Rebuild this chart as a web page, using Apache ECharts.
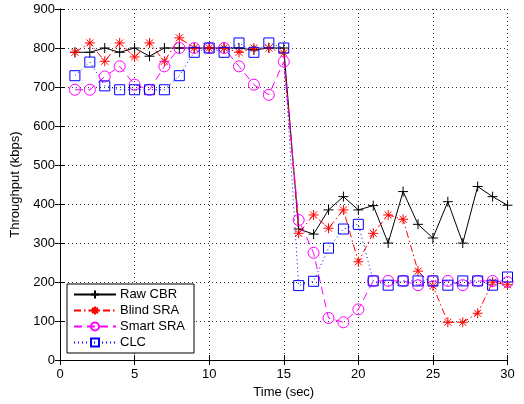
<!DOCTYPE html>
<html>
<head>
<meta charset="utf-8">
<script src="https://cdn.jsdelivr.net/npm/echarts@6/dist/echarts.min.js"></script>
<style>
  html, body { margin: 0; padding: 0; background: #fff; }
  #chart { width: 524px; height: 404px; }
</style>
</head>
<body>
<div id="chart"></div>
<script>
// Time axis (seconds)
const time = [1,2,3,4,5,6,7,8,9,10,11,12,13,14,15,16,17,18,19,20,21,22,23,24,25,26,27,28,29,30];

// Throughput per scheme (kbps)
const rawCBR = [789,789,800,789,800,779,800,800,800,800,800,800,795,800,800,
                336,323,385,419,385,396,300,432,348,313,406,300,445,419,397];
const blindSRA = [789,813,766,813,777,813,766,826,800,800,800,789,800,800,787,
                  325,372,338,385,252,325,372,361,228,190,97,97,120,200,193];
const smartSRA = [693,693,727,753,706,693,753,800,800,800,800,753,706,680,765,
                  359,275,108,97,130,203,203,203,192,203,203,192,203,203,200];
const clc = [729,764,703,693,693,693,693,729,789,800,789,813,789,813,800,
             191,202,287,336,348,203,192,203,203,203,192,203,203,192,213];

const seriesNames = ['Raw CBR', 'Blind SRA', 'Smart SRA', 'CLC'];
const xTicks = { min: 0, max: 30, interval: 5 };
const yTicks = { min: 0, max: 900, interval: 100 };

const FONT = 'Liberation Sans, Arial, Helvetica, sans-serif';

const pair = arr => arr.map((v, i) => [time[i], v]);

// marker outlines (stroked paths)
const plusPath = 'path://M5,0L5,10M0,5L10,5';
const starPath = 'path://M5,0L5,10M0,5L10,5M1.5,1.5L8.5,8.5M8.5,1.5L1.5,8.5';

const gridLine = { show: true, lineStyle: { color: '#333', type: [1, 3], width: 1 } };

const chart = echarts.init(document.getElementById('chart'), null, { renderer: 'canvas' });

function lineSeries(name, data, color, dash, symbol, size) {
  return {
    name: name,
    type: 'line',
    data: pair(data),
    symbol: symbol,
    symbolSize: size,
    showAllSymbol: true,
    animation: false,
    lineStyle: { color: color, width: 1, type: dash },
    itemStyle: { color: 'rgba(0,0,0,0)', borderColor: color, borderWidth: 1 },
    emphasis: { disabled: true }
  };
}

chart.setOption({
  animation: false,
  backgroundColor: '#fff',
  textStyle: { fontFamily: FONT, color: '#000' },
  grid: { left: 60, right: 16.5, top: 9, bottom: 42.3 },
  xAxis: [{
    type: 'value', ...xTicks,
    name: 'Time (sec)', nameLocation: 'middle', nameGap: 22,
    nameTextStyle: { fontSize: 13, color: '#000', fontFamily: FONT },
    axisLine: { show: true, lineStyle: { color: '#000', width: 1 } },
    axisTick: { show: true, inside: true, length: 5, lineStyle: { color: '#000' } },
    axisLabel: { fontSize: 13, color: '#000', fontFamily: FONT, margin: 8 },
    splitLine: gridLine
  }, {
    type: 'value', ...xTicks, position: 'top',
    axisLine: { show: true, lineStyle: { color: '#000', width: 1 } },
    axisTick: { show: true, inside: true, length: 5, lineStyle: { color: '#000' } },
    axisLabel: { show: false },
    splitLine: { show: false }
  }],
  yAxis: [{
    type: 'value', ...yTicks,
    name: 'Throughput (kbps)', nameLocation: 'middle', nameGap: 36,
    nameTextStyle: { fontSize: 13, color: '#000', fontFamily: FONT },
    axisLine: { show: true, lineStyle: { color: '#000', width: 1 } },
    axisTick: { show: true, inside: true, length: 5, lineStyle: { color: '#000' } },
    axisLabel: { fontSize: 13, color: '#000', fontFamily: FONT, margin: 5 },
    splitLine: gridLine
  }, {
    type: 'value', ...yTicks, position: 'right',
    axisLine: { show: true, lineStyle: { color: '#000', width: 1 } },
    axisTick: { show: true, inside: true, length: 5, lineStyle: { color: '#000' } },
    axisLabel: { show: false },
    splitLine: { show: false }
  }],
  legend: {
    orient: 'vertical',
    left: 67, top: 284,
    width: 126,
    padding: [4, 9, 4, 6],
    itemGap: 3,
    itemWidth: 42, itemHeight: 10,
    backgroundColor: '#fff',
    borderColor: '#000', borderWidth: 1,
    textStyle: { fontSize: 13, color: '#000', fontFamily: FONT, padding: [0, 0, 0, -1] },
    data: seriesNames
  },
  series: [
    lineSeries(seriesNames[0], rawCBR, '#000000', 'solid', plusPath, 10),
    lineSeries(seriesNames[1], blindSRA, '#ff0000', [7, 3, 1.5, 3], starPath, 10),
    lineSeries(seriesNames[2], smartSRA, '#ff00ff', [8, 5], 'circle', 11),
    lineSeries(seriesNames[3], clc, '#0000ff', [1, 3], 'rect', 10)
  ]
});
</script>
</body>
</html>
